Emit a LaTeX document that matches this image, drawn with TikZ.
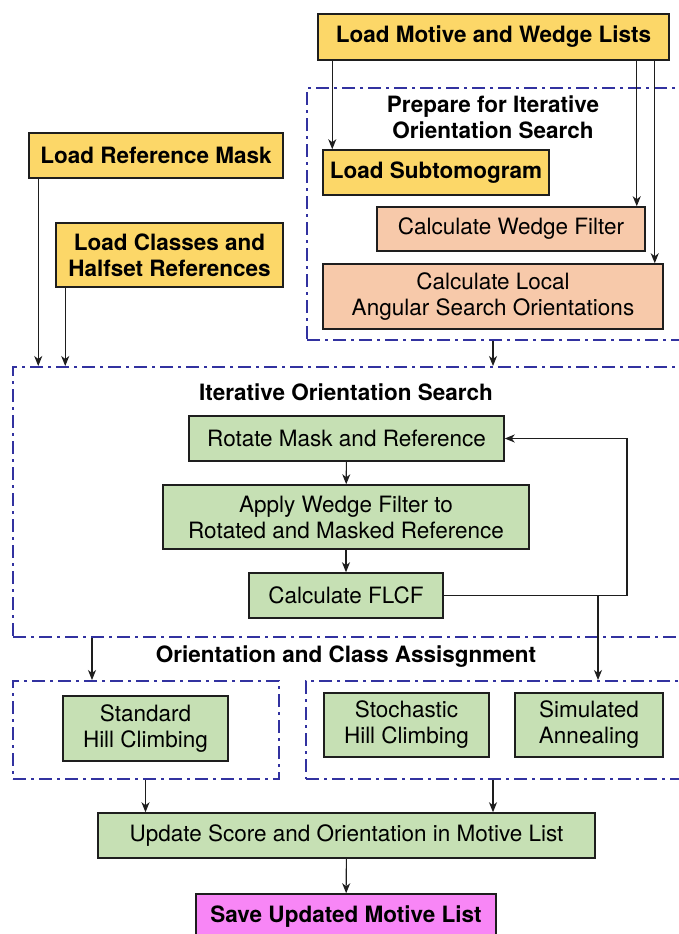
\documentclass[tikz,border=0pt]{standalone}
\usepackage{fontspec}
\setmainfont{TeX Gyre Heros}
\usetikzlibrary{arrows.meta}
\definecolor{yel}{RGB}{252,215,104}
\definecolor{sal}{RGB}{247,201,170}
\definecolor{grn}{RGB}{198,224,180}
\definecolor{mag}{RGB}{248,134,246}
\definecolor{dblue}{RGB}{50,50,160}
\definecolor{lin}{RGB}{30,30,30}
\tikzset{
  box/.style={draw=lin, line width=1.5pt, inner sep=0pt, align=center,
    font=\fontsize{22.5}{26}\selectfont},
  bbox/.style={box, font=\fontsize{22.5}{26}\selectfont\bfseries},
  grp/.style={draw=dblue, line width=2.2pt, dash pattern=on 13pt off 5pt on 3pt off 5pt, inner sep=0pt},
  ttl/.style={align=center, font=\fontsize{22.5}{26}\selectfont\bfseries},
  arr/.style={draw=lin, line width=1.1pt, -{Stealth[length=10pt,width=8pt,inset=3pt]}},
}
\begin{document}
\begin{tikzpicture}[x=1pt,y=-1pt]
\useasboundingbox (0,0) rectangle (679,934);
% group boxes
\node[grp, minimum width=379pt, minimum height=252pt, anchor=north west] (prep) at (306,87) {};
\node[grp, minimum width=673pt, minimum height=270pt, anchor=north west] (iter) at (12,366) {};
\node[grp, minimum width=266pt, minimum height=98pt, anchor=north west] (lgrp) at (12,680) {};
\node[grp, minimum width=380pt, minimum height=98pt, anchor=north west] (rgrp) at (305,680) {};
% titles
\node[ttl] (tprep) at (493,117) {Prepare for Iterative\\Orientation Search};
\node[ttl] (titer) at (346,392) {Iterative Orientation Search};
\node[ttl] (tori) at (346,657) {Orientation and Class Assisgnment};
% boxes
\node[bbox, fill=yel, minimum width=351pt, minimum height=46pt] (lmw) at (493.5,37) {Load Motive and Wedge Lists};
\node[bbox, fill=yel, minimum width=226pt, minimum height=45pt] (lsub) at (436,172.5) {Load Subtomogram};
\node[box, fill=sal, minimum width=268pt, minimum height=44pt] (cwf) at (511,229) {Calculate Wedge Filter};
\node[box, fill=sal, minimum width=340pt, minimum height=65pt] (cll) at (493,296.5) {Calculate Local\\Angular Search Orientations};
\node[bbox, fill=yel, minimum width=254pt, minimum height=45pt] (lrm) at (156,155.5) {Load Reference Mask};
\node[bbox, fill=yel, minimum width=227pt, minimum height=64pt] (lcl) at (169.5,255) {Load Classes and\\Halfset References};
\node[box, fill=grn, minimum width=315pt, minimum height=45pt] (rot) at (346.5,438.5) {Rotate Mask and Reference};
\node[box, fill=grn, minimum width=366pt, minimum height=64pt] (app) at (346,517) {Apply Wedge Filter to\\Rotated and Masked Reference};
\node[box, fill=grn, minimum width=194pt, minimum height=45pt] (flcf) at (346,595.5) {Calculate FLCF};
\node[box, fill=grn, minimum width=165pt, minimum height=65pt] (std) at (145.5,728.5) {Standard\\Hill Climbing};
\node[box, fill=grn, minimum width=165pt, minimum height=64pt] (sto) at (406.5,725) {Stochastic\\Hill Climbing};
\node[box, fill=grn, minimum width=148pt, minimum height=64pt] (sim) at (589,725) {Simulated\\Annealing};
\node[box, fill=grn, minimum width=497pt, minimum height=45pt] (upd) at (346.5,835.5) {Update Score and Orientation in Motive List};
\node[bbox, fill=mag, minimum width=300pt, minimum height=45pt] (save) at (346,916.5) {Save Updated Motive List};
% helper coordinates
\coordinate (loopx) at (627,0);
\coordinate (brx) at (598,0);
\coordinate (ix) at (92,0);
% connectors
\draw[arr] ([xshift=10pt]lsub.north west |- lmw.south) -- ([xshift=10pt]lsub.north west);
\draw[arr] ([xshift=-9pt]cwf.north east |- lmw.south) -- ([xshift=-9pt]cwf.north east);
\draw[arr] ([xshift=-9pt]cll.north east |- lmw.south) -- ([xshift=-9pt]cll.north east);
\draw[arr] ([xshift=10pt]lrm.south west) -- ([xshift=10pt]lrm.south west |- iter.north);
\draw[arr] ([xshift=10pt]lcl.south west) -- ([xshift=10pt]lcl.south west |- iter.north);
\draw[arr] (prep.south -| cll) -- (iter.north -| cll);
\draw[arr] (rot) -- (app);
\draw[arr] (app) -- (flcf);
\draw[arr] (flcf.east) -- (flcf.east -| loopx) -- (rot.east -| loopx) -- (rot.east);
\draw[arr] (flcf.east -| brx) -- (rgrp.north -| brx);
\draw[arr] (iter.south -| ix) -- (lgrp.north -| ix);
\draw[arr] (lgrp.south -| std) -- (upd.north -| std);
\draw[arr] (rgrp.south -| cll) -- (upd.north -| cll);
\draw[arr] (upd) -- (save);
\end{tikzpicture}
\end{document}
